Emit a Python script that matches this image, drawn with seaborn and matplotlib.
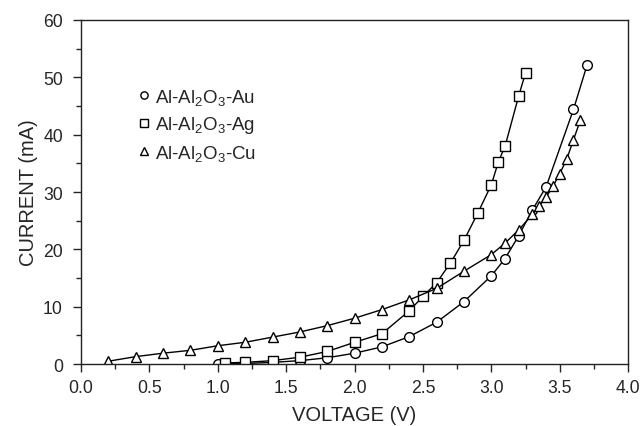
import pandas as pd
import matplotlib.pyplot as plt
import seaborn as sns
from matplotlib.ticker import MultipleLocator

# Al-Al2O3-Au (circles)
au_v = [1.0, 1.2, 1.4, 1.6, 1.8, 2.0, 2.2, 2.4, 2.6, 2.8, 3.0, 3.1, 3.2, 3.3, 3.4, 3.6, 3.7]
au_i = [0.05, 0.1, 0.3, 0.6, 1.1, 1.9, 3.0, 4.8, 7.3, 10.9, 15.4, 18.4, 22.4, 26.9, 30.9, 44.4, 52.2]

# Al-Al2O3-Ag (squares)
ag_v = [1.05, 1.2, 1.4, 1.6, 1.8, 2.0, 2.2, 2.4, 2.5, 2.6, 2.7, 2.8, 2.9, 3.0, 3.05, 3.1, 3.2, 3.25]
ag_i = [0.2, 0.3, 0.6, 1.2, 2.2, 3.8, 5.3, 9.3, 11.8, 14.2, 17.6, 21.6, 26.3, 31.3, 35.2, 38.0, 46.8, 50.8]

# Al-Al2O3-Cu (triangles)
cu_v = [0.2, 0.4, 0.6, 0.8, 1.0, 1.2, 1.4, 1.6, 1.8, 2.0, 2.2, 2.4, 2.6, 2.8, 3.0,
        3.1, 3.2, 3.3, 3.35, 3.4, 3.45, 3.5, 3.55, 3.6, 3.65]
cu_i = [0.5, 1.3, 1.9, 2.4, 3.2, 3.8, 4.7, 5.6, 6.7, 8.0, 9.5, 11.2, 13.2, 16.2, 19.1,
        21.1, 23.4, 26.1, 27.6, 29.1, 31.0, 33.2, 35.7, 39.1, 42.5]

labels = ['Al-Al$_2$O$_3$-Au', 'Al-Al$_2$O$_3$-Ag', 'Al-Al$_2$O$_3$-Cu']
markers = ['o', 's', '^']

sns.set_style('ticks')
plt.rcParams['font.family'] = ['Liberation Sans', 'DejaVu Sans']
plt.rcParams['mathtext.fontset'] = 'custom'
plt.rcParams['mathtext.rm'] = 'Liberation Sans'
plt.rcParams['mathtext.it'] = 'Liberation Sans'

fig = plt.figure(figsize=(6.43, 4.27), dpi=100)
ax = fig.add_axes([0.126, 0.145, 0.851, 0.806])

series = [(au_v, au_i), (ag_v, ag_i), (cu_v, cu_i)]
for (v, i), lab, m in zip(series, labels, markers):
    df = pd.DataFrame({'v': v, 'i': i})
    sns.lineplot(data=df, x='v', y='i', ax=ax, color='black', linewidth=1.0,
                 marker=m, markersize=7 if m != '^' else 7.5, markerfacecolor='white',
                 markeredgecolor='black', markeredgewidth=1.0, label=lab)

ax.set_xlim(0, 4.0)
ax.set_ylim(0, 60)
ax.xaxis.set_major_locator(MultipleLocator(0.5))
ax.xaxis.set_minor_locator(MultipleLocator(0.25))
ax.yaxis.set_major_locator(MultipleLocator(10))
ax.yaxis.set_minor_locator(MultipleLocator(5))
ax.set_xticklabels([f'{x:.1f}' for x in ax.get_xticks()])
ax.tick_params(axis='both', which='major', labelsize=12.7, length=6, width=1, direction='out')
ax.tick_params(axis='y', which='major', pad=7)
ax.tick_params(axis='x', which='major', pad=5)
ax.tick_params(axis='both', which='minor', length=3.5, width=1, direction='out')
for s in ax.spines.values():
    s.set_visible(True)
    s.set_linewidth(1.0)
    s.set_color('#222222')

ax.set_xlabel('VOLTAGE (V)', fontsize=14.5, labelpad=6)
ax.set_ylabel('CURRENT (mA)', fontsize=14.5, labelpad=4)

leg = ax.legend(loc='upper left', bbox_to_anchor=(0.085, 0.855), frameon=False,
                fontsize=13.5, handlelength=0, handletextpad=0.55, markerscale=0.75,
                labelspacing=0.4)
for h in leg.legend_handles:
    h.set_linestyle('none')

fig.savefig('out.png', dpi=100)
